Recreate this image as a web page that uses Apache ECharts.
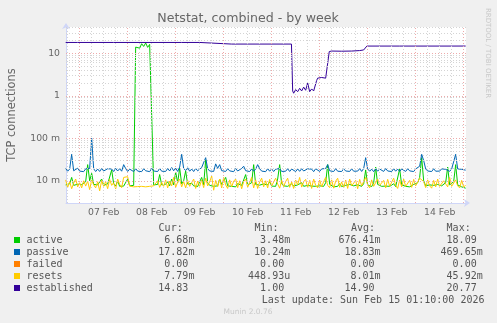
<!DOCTYPE html>
<html>
<head>
<meta charset="utf-8">
<script src="https://cdn.jsdelivr.net/npm/echarts@6/dist/echarts.min.js"></script>
<style>
html,body{margin:0;padding:0;background:#F0F0F0;}
#chart{width:497px;height:323px;}
</style>
</head>
<body>
<div id="chart"></div>
<script>
// ---- data ----
// time: hours since Sat Feb 06 2026 00:00, hourly samples
const START_HOUR = 17 + 10 / 60;   // Feb 06 17:10
const END_HOUR = START_HOUR + 200;  // Feb 15 01:10
const firstSample = 17;
// values in milli-connections (m), hourly from h=17 to h=217
const activeM = [
  8.0, 7.4, 8.5, 12, 7.8, 7.2, 8.3, 7.6, 8.1, 7.4,
  9.5, 24, 10, 15, 8.2, 7.5, 8.0, 7.6, 11, 7.8,
  7.3, 8.4, 9.0, 18, 8.5, 7.6, 10, 7.4, 8.0, 7.5,
  7.8, 11, 7.6, 7.4, 7.8, 14000, 15500, 13200, 16800, 14500,
  17500, 13800, 16200, 15000, 8.0, 7.6, 8.2, 14, 8.0, 7.4,
  8.3, 9.5, 7.6, 11, 8.0, 16, 9.0, 20, 8.4, 10,
  17, 8.2, 7.5, 8.8, 7.6, 8.4, 7.3, 9.5, 12, 8.0,
  31, 9.0, 7.8, 8.6, 7.4, 8.0, 7.6, 11, 8.2, 7.5,
  12, 7.6, 8.3, 7.4, 8.0, 7.2, 8.6, 9.5, 7.8, 8.2,
  14, 8.0, 7.5, 9.0, 24, 8.2, 7.6, 7.9, 7.3, 8.4,
  7.6, 8.0, 9.5, 7.5, 8.2, 7.4, 11, 24, 8.5, 7.6,
  8.0, 7.4, 7.8, 8.5, 7.5, 7.2, 8.0, 7.6, 9.0, 7.4,
  7.3, 7.8, 7.2, 7.5, 7.0, 7.4, 7.2, 7.6, 7.0, 7.4,
  9.0, 24, 8.2, 7.6, 7.2, 7.8, 7.4, 8.6, 7.3, 7.5,
  7.8, 7.4, 8.2, 7.5, 7.6, 7.3, 8.0, 7.5, 7.4, 8.5,
  18, 8.0, 7.6, 7.3, 9.0, 21, 8.2, 7.6, 7.4, 7.8,
  7.5, 8.0, 7.4, 7.6, 8.5, 7.3, 7.8, 19, 8.0, 7.5,
  7.4, 7.8, 7.2, 7.6, 8.2, 7.5, 9.0, 12, 35, 10,
  7.6, 7.4, 8.0, 7.3, 7.8, 7.5, 8.2, 7.4, 7.6, 7.8,
  9.0, 21, 8.0, 7.4, 9.5, 24, 8.0, 7.5, 7.2, 7.0,
  6.7
];
const passiveM = [
  19.5, 16.8, 18.9, 42, 17.2, 16.2, 19.8, 16.9, 18.4, 16.4,
  19.1, 17.2, 19.5, 100, 19.2, 16.5, 18.9, 16.6, 19.4, 17.0,
  16.4, 19.2, 17.3, 18.9, 16.5, 19.6, 17.0, 19.2, 16.8, 24,
  19.4, 16.6, 18.8, 17.2, 16.5, 19.3, 16.9, 18.6, 16.4, 19.2,
  17.2, 18.9, 16.4, 19.5, 17.0, 18.4, 16.5, 19.6, 16.8, 18.7,
  16.6, 19.4, 17.0, 20.5, 17.2, 19.8, 16.6, 21, 42, 19.5,
  17.4, 20.2, 16.8, 18.9, 16.5, 19.6, 17.2, 18.6, 20.5, 19.0,
  35, 19.2, 17.0, 18.8, 16.6, 25, 19.6, 24, 17.3, 18.9,
  16.6, 19.2, 17.1, 18.9, 16.4, 19.4, 17.0, 18.8, 19.5, 22,
  17.3, 19.1, 16.5, 19.0, 16.8, 18.9, 24, 19.2, 16.9, 18.6,
  16.4, 19.3, 16.8, 19.0, 16.5, 18.8, 17.0, 19.4, 16.6, 18.5,
  16.8, 19.2, 16.6, 18.9, 17.2, 16.5, 19.0, 16.7, 19.2, 17.0,
  16.5, 19.1, 17.2, 18.8, 16.4, 19.2, 17.3, 16.6, 19.0, 17.1,
  19.5, 24, 17.2, 18.9, 16.5, 19.3, 16.8, 18.6, 16.5, 19.1,
  17.0, 18.8, 16.6, 19.2, 16.8, 18.7, 16.9, 19.3, 16.6, 19.5,
  35, 19.0, 16.8, 18.8, 16.4, 19.2, 16.8, 18.9, 17.0, 16.6,
  19.4, 17.0, 18.7, 16.5, 19.3, 16.8, 18.9, 16.6, 19.0, 17.2,
  16.6, 19.2, 17.1, 18.8, 16.5, 19.0, 17.2, 22, 42, 30,
  19.0, 17.0, 18.9, 16.5, 19.2, 16.8, 18.6, 16.9, 19.1, 17.3,
  18.6, 19.2, 16.7, 18.9, 19.5, 42, 19.0, 17.2, 18.6, 17.1,
  17.8
];
const resetsM = [
  10.5, 7.0, 9.5, 6.5, 8.8, 11, 7.2, 9.0, 6.8, 10,
  7.5, 9.8, 6.2, 10.5, 8.0, 6.8, 9.5, 5.8, 10.2, 7.4,
  9.6, 6.5, 10.8, 7.8, 9.0, 6.4, 11, 8.2, 6.9, 12,
  11, 12.5, 7.5, 8.0, 7.2, 7.0, 7.3, 7.1, 7.4, 7.0,
  7.2, 7.1, 7.4, 7.0, 7.6, 8.0, 10, 7.0, 9.2, 7.4,
  10.5, 6.8, 9.8, 7.6, 12, 7.0, 9.4, 11, 7.2, 9.6,
  6.8, 10.2, 7.4, 9.0, 11, 6.6, 9.8, 7.4, 10.5, 6.9,
  11.5, 7.6, 9.4, 13, 6.0, 10.2, 7.3, 11, 6.8, 12,
  8.0, 6.6, 10.5, 7.2, 9.8, 11, 6.9, 10, 6.5, 9.6,
  11, 7.0, 9.2, 12, 6.8, 10.5, 6.6, 9.4, 11.5, 7.2,
  10, 6.8, 10.8, 7.6, 6.9, 11.5, 8.4, 6.7, 10.2, 7.3,
  9.6, 11.5, 7.0, 9.4, 6.6, 10.4, 8.0, 12, 7.1, 9.5,
  10.8, 6.9, 10.2, 6.6, 11, 7.8, 6.8, 10.4, 7.2, 9.6,
  12, 7.8, 6.9, 10.5, 6.7, 9.8, 11.5, 7.0, 9.4, 6.8,
  10.4, 6.6, 11, 7.6, 6.9, 10.2, 6.5, 10.8, 7.6, 7.0,
  12, 8.0, 6.8, 10.5, 7.4, 6.7, 11, 7.8, 7.0, 10.2,
  6.8, 10.8, 7.4, 6.9, 11.5, 7.8, 6.6, 10.4, 7.2, 11,
  7.4, 6.8, 10.2, 7.0, 10.8, 7.6, 7.0, 11.5, 12.5, 9.6,
  6.9, 10.5, 7.6, 6.7, 10.2, 7.2, 11, 7.4, 6.9, 10,
  10.8, 7.2, 12, 7.4, 6.9, 10.5, 7.6, 6.8, 10.2, 7.2,
  7.8
];
// established: [hour, connections]
const establishedHours = [17, 23, 23.5, 24, 41, 41.5, 42, 75, 75.5, 76, 84, 84.5, 100, 100.5, 101, 108, 108.5, 109, 129.9,
  130.5, 131, 132, 133, 134, 135, 136, 137, 138, 139, 140, 141, 142,
  142.5, 143, 144, 145, 146, 147, 148,
  148.8, 150, 155, 160, 164, 166, 167, 167.6, 180, 184, 184.5, 185, 210, 210.5, 211, 217];
const establishedValues = [18, 18, 19, 18, 18, 19, 18, 18, 19, 18, 18, 16.5, 16.5, 17.3, 16.5, 16.5, 17.2, 16.5, 16.5,
  1.3, 1.15, 1.4, 1.25, 1.5, 1.3, 1.6, 1.35, 2.0, 1.25, 1.45, 1.3, 1.4,
  2.3, 2.6, 2.4, 2.7, 2.5, 2.6, 2.45,
  11.0, 11.3, 11.2, 11.3, 11.6, 12.0, 12.2, 14.8, 14.8, 14.8, 14.3, 14.8, 14.8, 14.3, 14.8, 14.83];
const failedValues = [0];

const xLabelHours = [36, 60, 84, 108, 132, 156, 180, 204];
const xLabelTexts = ['07 Feb', '08 Feb', '09 Feb', '10 Feb', '11 Feb', '12 Feb', '13 Feb', '14 Feb'];
const yLabelValues = [0.01, 0.1, 1, 10];
const yLabelTexts = ['10 m', '100 m', '1', '10'];
const Y_MIN = 0.003, Y_MAX = 41.6;

const legendNames = ['active', 'passive', 'failed', 'resets', 'established'];
const legendColors = ['#00CC00', '#0066B3', '#FF8000', '#FFCC00', '#330099'];
const curText = ['6.68m', '17.82m', '0.00 ', '7.79m', '14.83 '];
const minText = ['3.48m', '10.24m', '0.00 ', '448.93u', '1.00 '];
const avgText = ['676.41m', '18.83m', '0.00 ', '8.01m', '14.90 '];
const maxText = ['18.09 ', '469.65m', '0.00 ', '45.92m', '20.77 '];

// ---- build ----
function pairs(arr, scale) {
  return arr.map((v, i) => [firstSample + i, v * scale]);
}
const gridLines = [];
const minorStyle = {color: '#d4d4d4', width: 1, type: [1, 2]};
const majorStyle = {color: '#eeaaaa', width: 1, type: [1, 2]};
for (let h = 18; h <= 216; h += 6) {
  gridLines.push({xAxis: h, lineStyle: (h % 24 === 0) ? majorStyle : minorStyle});
}
for (let e = -3; e <= 1; e++) {
  for (let m = 1; m <= 9; m++) {
    const v = m * Math.pow(10, e);
    if (v < Y_MIN * 1.01 || v > Y_MAX) continue;
    gridLines.push({yAxis: v, lineStyle: m === 1 ? majorStyle : minorStyle});
  }
}
gridLines.push({yAxis: Y_MIN, lineStyle: {color: '#F8A870', width: 1, type: 'solid'}});

const FONT = 'DejaVu Sans';
const MONO = 'DejaVu Sans Mono';
const CW = 6.02;
const TXT = '#555';
const graphic = [
  {type: 'text', x: 248, y: 19, style: {text: 'Netstat, combined - by week', font: '12.6px "' + FONT + '"', fill: '#666', textAlign: 'center', textVerticalAlign: 'middle'}},
  {type: 'text', x: 12, y: 115, rotation: Math.PI / 2, style: {text: 'TCP connections', font: '11.4px "' + FONT + '"', fill: '#666', textAlign: 'center', textVerticalAlign: 'middle'}},
  {type: 'text', x: 487.5, y: 53, rotation: -Math.PI / 2, style: {text: 'RRDTOOL / TOBI OETIKER', font: '7px "' + FONT + '"', fill: '#c8c8c8', textAlign: 'center', textVerticalAlign: 'middle'}},
  {type: 'text', x: 248, y: 312, style: {text: 'Munin 2.0.76', font: '7.5px "' + FONT + '"', fill: '#c8c8c8', textAlign: 'center', textVerticalAlign: 'middle'}}
];
function colText(str, right, y) {
  graphic.push({type: 'text', x: right - str.length * CW, y: y, style: {text: str.replace(/\s+$/, ''), font: '10px "' + MONO + '"', fill: TXT, textVerticalAlign: 'middle'}});
}
const headY = 228, rowY0 = 240, rowH = 12;
graphic.push({type: 'text', x: 158.6, y: headY, style: {text: 'Cur:', font: '10px "' + MONO + '"', fill: TXT, textVerticalAlign: 'middle'}});
graphic.push({type: 'text', x: 254.5, y: headY, style: {text: 'Min:', font: '10px "' + MONO + '"', fill: TXT, textVerticalAlign: 'middle'}});
graphic.push({type: 'text', x: 351, y: headY, style: {text: 'Avg:', font: '10px "' + MONO + '"', fill: TXT, textVerticalAlign: 'middle'}});
graphic.push({type: 'text', x: 446.6, y: headY, style: {text: 'Max:', font: '10px "' + MONO + '"', fill: TXT, textVerticalAlign: 'middle'}});
legendNames.forEach((n, i) => {
  const y = rowY0 + i * rowH;
  graphic.push({type: 'rect', shape: {x: 14, y: y - 3, width: 6, height: 6}, style: {fill: legendColors[i]}});
  graphic.push({type: 'text', x: 26.5, y: y, style: {text: n, font: '10px "' + MONO + '"', fill: TXT, textVerticalAlign: 'middle'}});
  colText(curText[i], 194.4, y);
  colText(minText[i], 290.2, y);
  colText(avgText[i], 380.6, y);
  colText(maxText[i], 482.7, y);
});
graphic.push({type: 'text', x: 261.7, y: 300, style: {text: 'Last update: Sun Feb 15 01:10:00 2026', font: '10px "' + MONO + '"', fill: TXT, textVerticalAlign: 'middle'}});

const lineSeries = (name, data, color) => ({
  name, type: 'line', data, showSymbol: false, symbol: 'none', z: 3,
  lineStyle: {color, width: 1}, itemStyle: {color}, animation: false, clip: true
});

const chart = echarts.init(document.getElementById('chart'), null, {renderer: 'canvas'});
chart.setOption({
  animation: false,
  backgroundColor: '#F0F0F0',
  grid: {left: 66, top: 27, width: 400, height: 176, show: true, backgroundColor: '#FFFFFF', borderWidth: 0},
  xAxis: {
    type: 'value', min: START_HOUR, max: END_HOUR,
    axisLine: {show: true, onZero: false, lineStyle: {color: '#CFD6F8'}, symbol: ['none', 'arrow'], symbolSize: [6, 6], symbolOffset: [0, 4]},
    axisTick: {show: false}, splitLine: {show: false},
    axisLabel: {customValues: xLabelHours, formatter: v => xLabelTexts[xLabelHours.indexOf(v)] || '', color: '#666', fontFamily: FONT, fontSize: 9.3, margin: 5}
  },
  yAxis: {
    type: 'log', logBase: 10, min: Y_MIN, max: Y_MAX,
    axisLine: {show: true, onZero: false, lineStyle: {color: '#CFD6F8'}, symbol: ['none', 'arrow'], symbolSize: [6, 6], symbolOffset: [0, 4]},
    axisTick: {show: false}, splitLine: {show: false}, minorSplitLine: {show: false},
    axisLabel: {customValues: yLabelValues, formatter: v => {
      const i = yLabelValues.findIndex(t => Math.abs(Math.log10(t) - Math.log10(v)) < 1e-6);
      return i >= 0 ? yLabelTexts[i] : '';
    }, color: '#666', fontFamily: FONT, fontSize: 9.3, margin: 6}
  },
  graphic: graphic,
  series: [
    {type: 'line', data: [], silent: true, z: 1, markLine: {silent: true, symbol: ['none', 'none'], label: {show: false}, animation: false, emphasis: {disabled: true}, data: gridLines}},
    lineSeries('active', pairs(activeM, 0.001), '#00CC00'),
    lineSeries('passive', pairs(passiveM, 0.001), '#0066B3'),
    lineSeries('resets', pairs(resetsM, 0.001), '#FFCC00'),
    lineSeries('established', establishedHours.map((h, i) => [h, establishedValues[i]]), '#330099')
  ]
});
</script>
</body>
</html>
